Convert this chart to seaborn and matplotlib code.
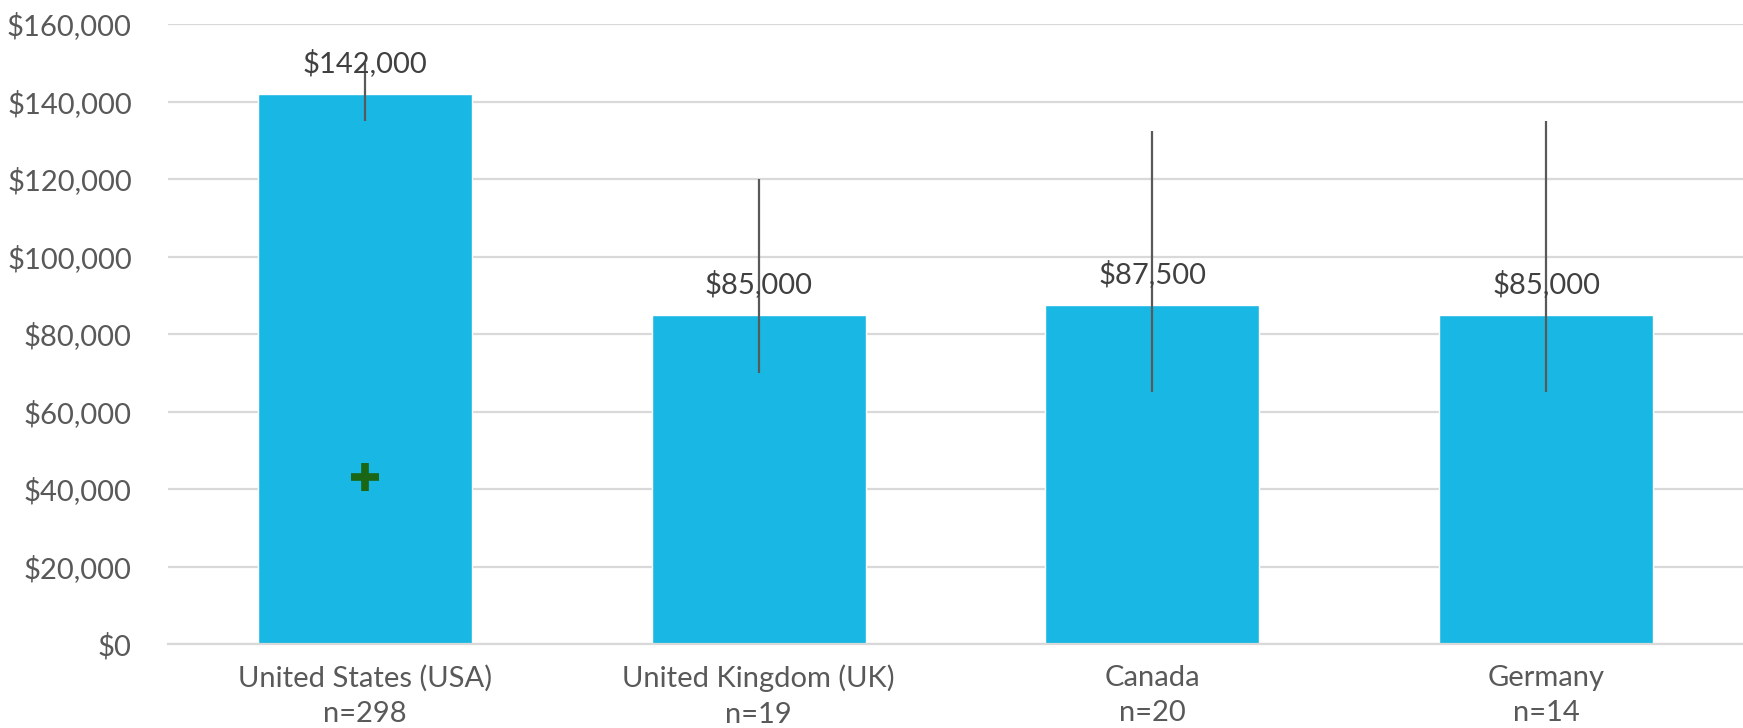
import numpy as np
import pandas as pd
import seaborn as sns
from matplotlib import pyplot as plt
from matplotlib.ticker import FuncFormatter

# Datos del grafico
paises = ["United States (USA)", "United Kingdom (UK)", "Canada", "Germany"]
n_resp = [298, 19, 20, 14]
mediana = [142000, 85000, 87500, 85000]
err_bajo = [135000, 70000, 65000, 65000]
err_alto = [150000, 120000, 132500, 135000]
marca_pais = ["United States (USA)"]
marca_valor = [43000]

sns.set_theme(style="white")
plt.rcParams['font.family'] = ['Lato', 'DejaVu Sans']

etiquetas = [f"{p}\nn={n}" for p, n in zip(paises, n_resp)]
df = pd.DataFrame({"pais": etiquetas, "mediana": mediana})

fig = plt.figure(figsize=(17.43, 7.28), dpi=100)
ax = fig.add_axes([168/1743, 84/728, 1 - 168/1743, 620/728])

sns.barplot(data=df, x="pais", y="mediana", color="#19B8E4", saturation=1,
            width=0.543, errorbar=None, ax=ax)

# barras de error
x = np.arange(len(paises))
med = np.array(mediana)
ax.errorbar(x, med, yerr=[med - np.array(err_bajo), np.array(err_alto) - med],
            fmt="none", ecolor="#595959", elinewidth=1.6, capsize=0, zorder=3)

# etiquetas de valor
ax.bar_label(ax.containers[0], labels=[f"${v:,.0f}" for v in mediana],
             padding=12, fontsize=21, color="#404040")

# marcador verde
ax.plot([x[paises.index(p)] for p in marca_pais], marca_valor, marker="+",
        linestyle="none", color="#1A6614", markersize=19.5, mew=5.5, zorder=4)

ax.set_ylim(0, 160000)
ax.set_xlim(-0.5, 3.5)
ax.set_yticks(range(0, 160001, 20000))
ax.yaxis.set_major_formatter(FuncFormatter(lambda v, p: f"${v:,.0f}"))
ax.grid(axis="y", color="#d9d9d9", linewidth=1.6)
ax.set_axisbelow(True)
for s in ["top", "right", "left"]:
    ax.spines[s].set_visible(False)
ax.spines["bottom"].set_color("#d9d9d9")
ax.spines["bottom"].set_linewidth(1.6)
ax.tick_params(axis="y", labelsize=21, labelcolor="#595959", length=0, pad=26)
ax.tick_params(axis="x", labelsize=21, labelcolor="#595959", length=0, pad=15)
for t in ax.get_xticklabels():
    t.set_linespacing(1.45)
ax.set_xlabel("")
ax.set_ylabel("")

fig.savefig("out.png", dpi=100)
